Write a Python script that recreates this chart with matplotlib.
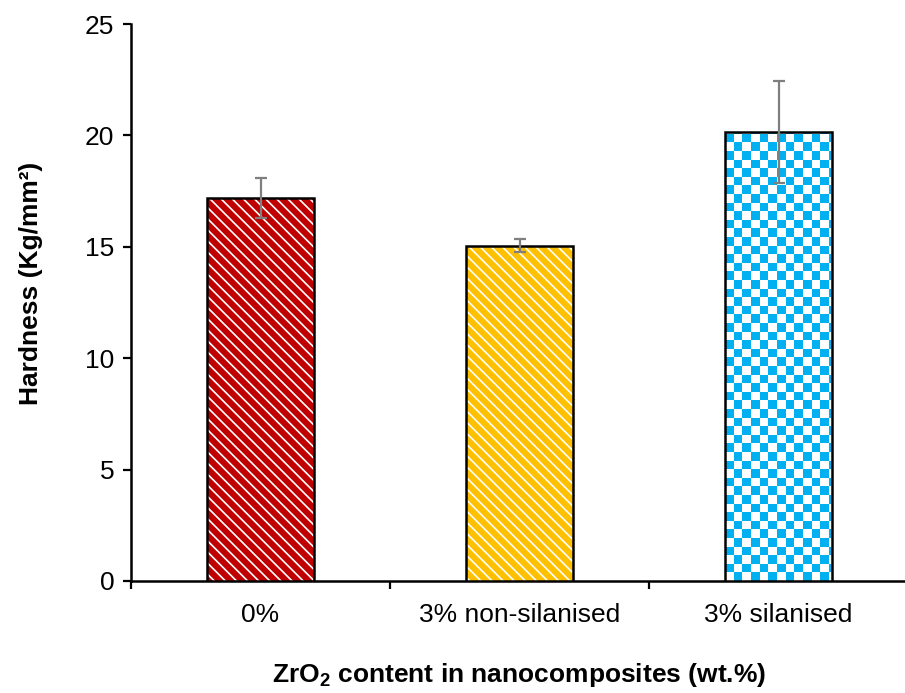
import numpy as np
import matplotlib
matplotlib.use("Agg")
import matplotlib.pyplot as plt

plt.rcParams['font.family'] = ['Liberation Sans', 'DejaVu Sans']
plt.rcParams['mathtext.fontset'] = 'custom'
plt.rcParams['mathtext.rm'] = 'Liberation Sans'
plt.rcParams['mathtext.bf'] = 'Liberation Sans:bold'
plt.rcParams['hatch.linewidth'] = 1.2

categories = ['0%', '3% non-silanised', '3% silanised']
hardness = [17.2, 15.05, 20.15]
errors = [0.9, 0.3, 2.3]
colors = ['#C00000', '#FFC000', '#00B0F0']
y_ticks = [0, 5, 10, 15, 20, 25]

fig = plt.figure(figsize=(9.05, 6.93), dpi=100)
ax = fig.add_axes([131/905, 1-581/693, (908-131)/905, (581-24)/693])

x = np.arange(len(categories))
width = 0.41
# fills (hatch colour follows edgecolor, so use white edges with zero width)
fills = ax.bar(x, hardness, width=width, color=colors, edgecolor='white',
               linewidth=0, zorder=3)
fills[0].set_hatch('\\\\\\')
fills[1].set_hatch('\\\\\\')
# checkerboard fill for the third bar
b = fills[2]
b.set_facecolor('white')
bx0, bw, bh = b.get_x(), b.get_width(), b.get_height()
cx = 8.6 / 259.0
cy = 8.6 / 22.28
nx = int(np.ceil(bw / cx)) + 1
ny = int(np.ceil(bh / cy)) + 1
board = (np.add.outer(np.arange(ny), np.arange(nx)) % 2).astype(float)
cmap = matplotlib.colors.ListedColormap(['white', colors[2]])
im = ax.imshow(board, cmap=cmap, origin='lower', interpolation='nearest',
               extent=(bx0, bx0 + nx * cx, 0, ny * cy), aspect='auto', zorder=3.5)
im.set_clip_path(b)
# outlines
ax.bar(x, hardness, width=width, facecolor='none', edgecolor='black',
       linewidth=1.8, zorder=4)

ax.errorbar(x, hardness, yerr=errors, fmt='none', ecolor='#7F7F7F',
            elinewidth=1.6, capsize=4.3, capthick=1.6, zorder=5)

ax.set_xlim(-0.5, 2.5)
ax.set_ylim(0, 25)
ax.set_yticks(y_ticks)
ax.set_yticklabels([str(t) for t in y_ticks])
ax.set_xticks(x)
ax.set_xticklabels(categories)
ax.set_xticks(np.arange(-0.5, 2.6, 1.0), minor=True)
ax.tick_params(axis='x', which='major', length=0, pad=16, labelsize=19)
ax.tick_params(axis='x', which='minor', length=6, width=1.6, direction='out')
ax.tick_params(axis='y', length=6, width=1.6, direction='out', labelsize=19, pad=6)

for s in ['top', 'right']:
    ax.spines[s].set_visible(False)
for s in ['left', 'bottom']:
    ax.spines[s].set_linewidth(1.8)

ax.set_ylabel('Hardness (Kg/mm²)', fontsize=19, fontweight='bold')
ax.yaxis.set_label_coords((43 - 131) / 777, (581 - 283) / 557)
ax.set_xlabel(r'ZrO$_{\mathbf{2}}$ content in nanocomposites (wt.%)',
              fontsize=19, fontweight='bold', labelpad=24)

fig.savefig('out.png', dpi=100)
